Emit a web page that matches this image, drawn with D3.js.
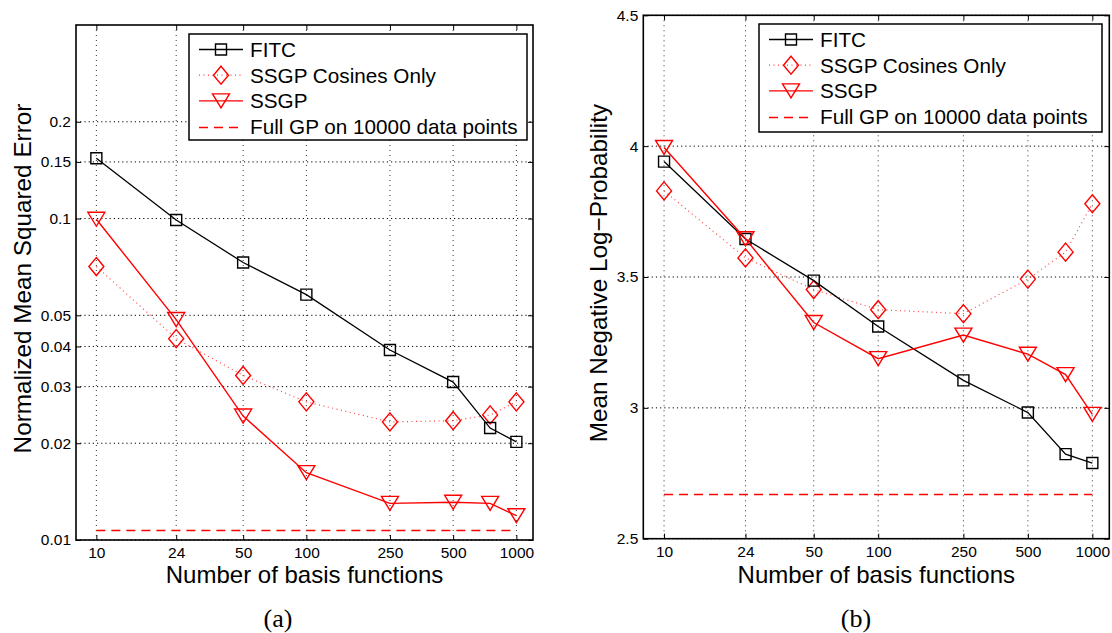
<!DOCTYPE html>
<html>
<head>
<meta charset="utf-8">
<script src="https://cdn.jsdelivr.net/npm/d3@7"></script>
<style>
  html, body { margin: 0; padding: 0; background: #fff; }
  svg { display: block; }
  text { font-family: "Liberation Sans", Arial, Helvetica, sans-serif; fill: #000; }
  .caption { font-family: "Liberation Serif", "Times New Roman", serif; }
</style>
</head>
<body>
<svg id="chart" width="1112" height="633"></svg>
<script>
// Number of basis functions used by each sparse method
const basis = [10, 24, 50, 100, 250, 500, 750, 1000];
const basisTicks = [10, 24, 50, 100, 250, 500, 1000];

// (a) Normalized mean squared error
const mseFITC = [0.154, 0.099, 0.073, 0.058, 0.039, 0.031, 0.0223, 0.0202];
const mseCosines = [0.0709, 0.0423, 0.0325, 0.0269, 0.0233, 0.0235, 0.0245, 0.0269];
const mseSSGP = [0.0995, 0.0485, 0.0243, 0.0162, 0.0130, 0.0131, 0.0130, 0.0119];
const mseFullGP = 0.01074;
const mseTicks = [0.01, 0.02, 0.03, 0.04, 0.05, 0.1, 0.15, 0.2];
const mseTickLabels = ["0.01", "0.02", "0.03", "0.04", "0.05", "0.1", "0.15", "0.2"];

// (b) Mean negative log-probability
const nlpFITC = [3.941, 3.645, 3.486, 3.311, 3.105, 2.982, 2.823, 2.789];
const nlpCosines = [3.829, 3.573, 3.452, 3.375, 3.360, 3.492, 3.595, 3.780];
const nlpSSGP = [3.995, 3.646, 3.326, 3.188, 3.278, 3.205, 3.127, 2.975];
const nlpFullGP = 2.672;
const nlpTicks = [2.5, 3, 3.5, 4, 4.5];
const nlpTickLabels = ["2.5", "3", "3.5", "4", "4.5"];

const legendLabels = ["FITC", "SSGP Cosines Only", "SSGP", "Full GP on 10000 data points"];

const RED = "#ff0000";
const svg = d3.select("#chart");

// Marker path generators (centred on the data point)
const markers = {
  square: "M-5.5,-5.5H5.5V5.5H-5.5Z",
  diamond: "M0,-9L7.5,0L0,9L-7.5,0Z",
  triangle: "M-8.5,-7L8.5,-7L0,7Z"
};

const seriesStyle = [
  { color: "#000", dash: null, width: 1.3, marker: "square", lineOpacity: 1 },
  { color: RED, dash: "1,3.5", width: 1.2, marker: "diamond", lineOpacity: 0.75 },
  { color: RED, dash: null, width: 1.4, marker: "triangle", lineOpacity: 1 },
  { color: RED, dash: "9,6", width: 1.5, marker: null, lineOpacity: 1 }
];

// snap a horizontal line to the pixel grid so it renders crisply
const crisp = v => Math.round(v) + 0.5;

function panel(opts) {
  const { x0, x1, y0, y1, yScaleType, yDomain, yTicks, yLabels, series, fullGP,
          yTitle, legend, caption } = opts;

  const g = svg.append("g");
  const x = d3.scaleLog().domain([8, 1200]).range([x0, x1]);
  const y = (yScaleType === "log" ? d3.scaleLog() : d3.scaleLinear())
    .domain(yDomain).range([y1, y0]);

  // grid
  const grid = g.append("g");
  grid.selectAll("line.h").data(yTicks).join("line")
    .attr("x1", x0).attr("x2", x1)
    .attr("y1", d => y(d)).attr("y2", d => y(d))
    .attr("stroke", "#000").attr("stroke-width", 1)
    .attr("stroke-dasharray", "1.2,3");
  grid.selectAll("line.v").data(basisTicks).join("line")
    .attr("y1", y0).attr("y2", y1)
    .attr("x1", d => x(d)).attr("x2", d => x(d))
    .attr("stroke", "#333").attr("stroke-width", 1)
    .attr("stroke-dasharray", "1,4");

  // axes (inward ticks on all four sides)
  const bottom = g.append("g").attr("transform", `translate(0,${y1})`)
    .call(d3.axisBottom(x).tickValues(basisTicks).tickFormat(d3.format("d"))
      .tickSizeInner(-5).tickSizeOuter(0).tickPadding(7));
  const top = g.append("g").attr("transform", `translate(0,${y0})`)
    .call(d3.axisTop(x).tickValues(basisTicks).tickFormat("")
      .tickSizeInner(-5).tickSizeOuter(0));
  const left = g.append("g").attr("transform", `translate(${x0},0)`)
    .call(d3.axisLeft(y).tickValues(yTicks).tickFormat((d, i) => yLabels[i])
      .tickSizeInner(-5).tickSizeOuter(0).tickPadding(5));
  const right = g.append("g").attr("transform", `translate(${x1},0)`)
    .call(d3.axisRight(y).tickValues(yTicks).tickFormat("")
      .tickSizeInner(-5).tickSizeOuter(0));
  [bottom, top, left, right].forEach(a => {
    a.select(".domain").remove();
    a.selectAll(".tick line").attr("stroke", "#000").attr("stroke-width", 1);
    a.selectAll(".tick text").style("font-size", "15.5px")
      .style("font-family", "'Liberation Sans', Arial, sans-serif").attr("fill", "#000");
  });

  // full GP reference line
  const fg = seriesStyle[3];
  g.append("line")
    .attr("x1", x(basis[0])).attr("x2", x(basis[basis.length - 1]))
    .attr("y1", crisp(y(fullGP))).attr("y2", crisp(y(fullGP)))
    .attr("stroke", fg.color).attr("stroke-width", fg.width)
    .attr("stroke-dasharray", fg.dash);

  // series lines + markers
  const line = d3.line().x((d, i) => x(basis[i])).y(d => y(d));
  [1, 0, 2].forEach(si => {
    const st = seriesStyle[si];
    const vals = series[si];
    g.append("path").datum(vals)
      .attr("d", line)
      .attr("fill", "none").attr("stroke", st.color)
      .attr("stroke-width", st.width)
      .attr("stroke-opacity", st.lineOpacity)
      .attr("stroke-dasharray", st.dash);
    g.selectAll(null).data(vals).join("path")
      .attr("d", markers[st.marker])
      .attr("transform", (d, i) => `translate(${x(basis[i])},${y(d)})`)
      .attr("fill", "none").attr("stroke", st.color).attr("stroke-width", 1.4);
  });

  // frame
  g.append("rect")
    .attr("x", x0).attr("y", y0).attr("width", x1 - x0).attr("height", y1 - y0)
    .attr("fill", "none").attr("stroke", "#000").attr("stroke-width", 1.6);

  // legend
  const lg = g.append("g");
  lg.append("rect")
    .attr("x", legend.x).attr("y", legend.y).attr("width", legend.w).attr("height", legend.h)
    .attr("fill", "#fff").attr("stroke", "#000").attr("stroke-width", 1.5);
  legendLabels.forEach((lab, i) => {
    const st = seriesStyle[i];
    const cy = legend.y + 15.5 + i * 25.7;
    const lx0 = legend.x + 10, lx1 = legend.x + 54;
    lg.append("line")
      .attr("x1", lx0).attr("x2", lx1)
      .attr("y1", st.marker ? cy : crisp(cy)).attr("y2", st.marker ? cy : crisp(cy))
      .attr("stroke", st.color).attr("stroke-width", st.width)
      .attr("stroke-opacity", st.lineOpacity)
      .attr("stroke-dasharray", st.dash);
    if (st.marker) {
      lg.append("path").attr("d", markers[st.marker])
        .attr("transform", `translate(${(lx0 + lx1) / 2},${cy})`)
        .attr("fill", "none").attr("stroke", st.color).attr("stroke-width", 1.4);
    }
    lg.append("text")
      .attr("x", legend.x + 61).attr("y", cy).attr("dy", "0.36em")
      .style("font-size", "20.7px").text(lab);
  });

  // axis titles
  g.append("text")
    .attr("x", (x0 + x1) / 2).attr("y", 583)
    .attr("text-anchor", "middle").style("font-size", "24px")
    .text("Number of basis functions");
  g.append("text")
    .attr("transform", `translate(${opts.yTitleX},${(y0 + y1) / 2 - 4}) rotate(-90)`)
    .attr("text-anchor", "middle").style("font-size", "24.3px")
    .text(yTitle);

  // caption
  g.append("text").attr("class", "caption")
    .attr("x", caption.x).attr("y", 627)
    .attr("text-anchor", "middle").style("font-size", "26px")
    .text(caption.text);
}

panel({
  x0: 76, x1: 533, y0: 25, y1: 540,
  yScaleType: "log", yDomain: [0.01, 0.4],
  yTicks: mseTicks, yLabels: mseTickLabels,
  series: [mseFITC, mseCosines, mseSSGP], fullGP: mseFullGP,
  yTitle: "Normalized Mean Squared Error", yTitleX: 31,
  legend: { x: 189, y: 34, w: 338, h: 106 },
  caption: { x: 278, text: "(a)" }
});

panel({
  x0: 643.3, x1: 1109.3, y0: 15.3, y1: 538.7,
  yScaleType: "linear", yDomain: [2.5, 4.5],
  yTicks: nlpTicks, yLabels: nlpTickLabels,
  series: [nlpFITC, nlpCosines, nlpSSGP], fullGP: nlpFullGP,
  yTitle: "Mean Negative Log\u2212Probability", yTitleX: 607,
  legend: { x: 759, y: 24, w: 343, h: 108 },
  caption: { x: 856, text: "(b)" }
});
</script>
</body>
</html>
